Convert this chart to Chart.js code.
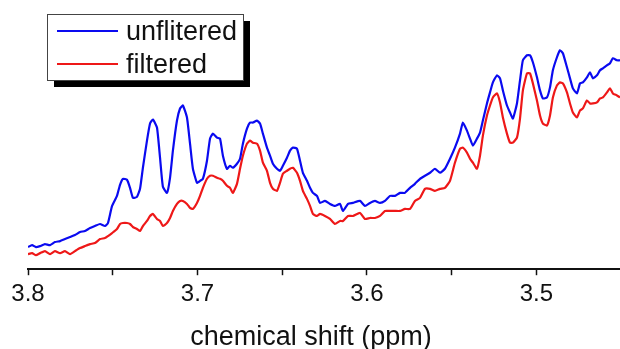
<!DOCTYPE html>
<html>
<head>
<meta charset="utf-8">
<script src="https://cdn.jsdelivr.net/npm/chart.js@4.4.1/dist/chart.umd.min.js"></script>
<style>
html,body{margin:0;padding:0;background:#fff;}
#wrap{position:relative;width:620px;height:349px;}
</style>
</head>
<body>
<div id="wrap"><canvas id="c" width="620" height="349"></canvas></div>
<script>
// chemical shift (ppm), shared by both spectra
const shiftPpm = [3.8000,3.7976,3.7953,3.7929,3.7900,3.7870,3.7841,3.7811,3.7782,3.7752,3.7723,3.7693,3.7664,3.7634,3.7605,3.7575,3.7546,3.7528,3.7504,3.7475,3.7457,3.7440,3.7416,3.7398,3.7381,3.7357,3.7339,3.7322,3.7298,3.7280,3.7263,3.7239,3.7221,3.7204,3.7180,3.7162,3.7145,3.7121,3.7103,3.7086,3.7062,3.7044,3.7027,3.7003,3.6985,3.6968,3.6944,3.6926,3.6909,3.6885,3.6867,3.6850,3.6826,3.6808,3.6791,3.6767,3.6749,3.6732,3.6708,3.6690,3.6673,3.6649,3.6631,3.6614,3.6590,3.6572,3.6555,3.6531,3.6513,3.6496,3.6472,3.6454,3.6437,3.6413,3.6395,3.6378,3.6354,3.6336,3.6319,3.6295,3.6277,3.6248,3.6218,3.6189,3.6159,3.6142,3.6112,3.6083,3.6041,3.6012,3.5982,3.5953,3.5923,3.5894,3.5864,3.5835,3.5805,3.5776,3.5746,3.5717,3.5687,3.5658,3.5628,3.5599,3.5569,3.5540,3.5510,3.5481,3.5451,3.5434,3.5410,3.5392,3.5375,3.5351,3.5333,3.5316,3.5292,3.5274,3.5257,3.5233,3.5215,3.5198,3.5174,3.5156,3.5139,3.5115,3.5097,3.5080,3.5056,3.5038,3.5021,3.4997,3.4979,3.4962,3.4938,3.4920,3.4903,3.4879,3.4861,3.4844,3.4820,3.4802,3.4785,3.4761,3.4743,3.4726,3.4702,3.4684,3.4667,3.4643,3.4625,3.4608,3.4584,3.4566,3.4549,3.4525,3.4507];

// intensity (arbitrary units)
const unfilteredVals = [22,24,22,23,25,24,27,28,30,32,34,37,38,41,43,45,43,46,63,73,84,90,89,81,71,72,80,101,128,145,149,141,111,82,76,91,118,148,160,163,151,125,100,86,88,90,108,130,135,131,130,113,100,103,101,105,110,125,140,146,146,148,145,135,121,113,105,100,98,103,111,118,121,120,108,96,88,81,76,73,66,68,65,63,65,58,65,66,68,63,66,68,66,68,73,73,76,76,81,85,90,93,96,100,96,100,110,121,135,146,138,130,123,130,136,148,165,176,186,193,190,178,163,156,150,165,188,208,213,213,206,191,178,170,171,181,198,211,218,215,201,190,180,175,185,186,191,196,190,193,198,200,203,205,210,208,208];

const filteredVals = [15,16,14,16,18,15,18,16,18,15,18,21,23,25,26,30,31,33,36,40,45,46,46,45,42,40,38,43,48,53,55,50,48,43,46,51,58,65,68,68,65,61,60,66,73,81,90,93,93,91,90,88,83,81,76,85,100,113,125,128,126,125,118,106,98,86,80,78,86,95,98,100,101,96,88,78,70,63,55,53,55,53,50,45,48,48,53,53,56,50,51,51,53,58,58,58,58,60,60,68,71,80,80,78,80,81,88,106,120,121,116,110,106,100,113,133,153,163,171,175,166,151,135,126,126,131,150,178,195,195,185,168,153,145,143,153,171,183,186,185,176,165,156,151,158,160,168,165,165,166,170,171,176,180,175,173,171];

const seriesNames = ['unflitered', 'filtered'];
const seriesColors = ['#0a0af0', '#ee1818'];
const tickValues = [3.8, 3.75, 3.7, 3.65, 3.6, 3.55, 3.5];
const tickLabels = {'3.8':'3.8', '3.7':'3.7', '3.6':'3.6', '3.5':'3.5'};
const xTitle = 'chemical shift (ppm)';
const xMin = 3.4507, xMax = 3.8;
const yMin = 0, yMax = 268;

const FONT = '"Liberation Sans", Arial, Helvetica, sans-serif';

function pts(vals){ return shiftPpm.map((x,i)=>({x:x, y:vals[i]})); }

const legendPlugin = {
  id:'boxLegend',
  afterDraw(chart){
    const ctx = chart.ctx;
    ctx.save();
    // shadow
    ctx.fillStyle = '#000';
    ctx.fillRect(54, 21, 196, 66);
    // box
    ctx.fillStyle = '#fff';
    ctx.fillRect(47, 14, 196, 66);
    ctx.strokeStyle = '#444';
    ctx.lineWidth = 1;
    ctx.strokeRect(47.5, 14.5, 196, 66);
    const rows = [{ly:31, by:40}, {ly:64, by:73}];
    chart.data.datasets.forEach((ds,i)=>{
      const r = rows[i];
      ctx.strokeStyle = ds.borderColor;
      ctx.lineWidth = 2;
      ctx.beginPath(); ctx.moveTo(57, r.ly); ctx.lineTo(118, r.ly); ctx.stroke();
      ctx.fillStyle = '#111';
      ctx.font = '27px ' + FONT;
      ctx.textAlign = 'left';
      ctx.textBaseline = 'alphabetic';
      ctx.fillText(ds.label, 126, r.by);
    });
    // axis title
    ctx.fillStyle = '#111';
    ctx.font = '27px ' + FONT;
    ctx.textAlign = 'center';
    ctx.textBaseline = 'alphabetic';
    ctx.fillText(xTitle, 311, 345);
    ctx.restore();
  }
};

new Chart(document.getElementById('c'), {
  type: 'line',
  data: {
    datasets: [
      {label: seriesNames[0], data: pts(unfilteredVals), borderColor: seriesColors[0], borderWidth: 2.2, pointRadius: 0, tension: 0.15, fill: false},
      {label: seriesNames[1], data: pts(filteredVals), borderColor: seriesColors[1], borderWidth: 2.2, pointRadius: 0, tension: 0.15, fill: false}
    ]
  },
  options: {
    responsive: false,
    animation: false,
    events: [],
    layout: {padding: {left: 28, right: 0, top: 0, bottom: 35}},
    plugins: {legend: {display: false}, tooltip: {enabled: false}, title: {display: false}},
    scales: {
      x: {
        type: 'linear',
        reverse: true,
        min: xMin, max: xMax,
        afterBuildTicks(scale){ scale.ticks = tickValues.map(v=>({value:v})); },
        grid: {drawOnChartArea: false, drawTicks: true, tickLength: 6, tickColor: '#111', tickWidth: 1.5},
        border: {display: true, color: '#111', width: 2},
        ticks: {
          autoSkip: false, maxRotation: 0, padding: 5,
          color: '#111',
          font: {family: FONT, size: 24},
          callback(v){ const k = (Math.round(v*100)/100).toString(); return tickLabels[k] || ''; }
        },
        title: {display: false}
      },
      y: {display: false, min: yMin, max: yMax}
    }
  },
  plugins: [legendPlugin]
});
</script>
</body>
</html>
